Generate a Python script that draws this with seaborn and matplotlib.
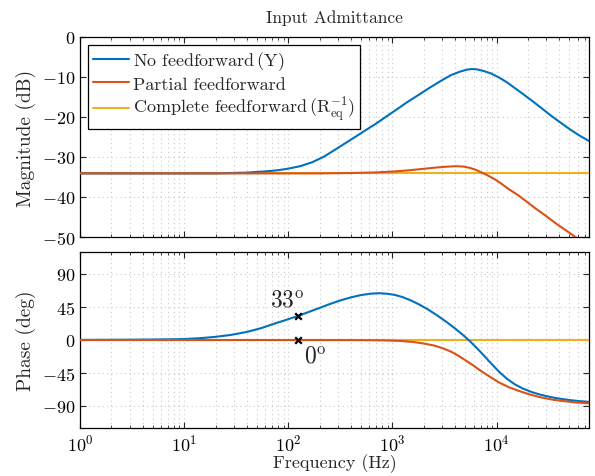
import matplotlib
matplotlib.use("Agg")
import matplotlib.pyplot as plt
import matplotlib.ticker as mticker
import numpy as np
import pandas as pd
import seaborn as sns

# ---- data (frequency in Hz) ----
freq_mag_nff = [1, 20, 40, 60, 80, 100, 130, 170, 220, 280, 350, 450, 560, 700,
                870, 1100, 1400, 1800, 2300, 2900, 3600, 4400, 5200, 5800, 6500,
                7500, 8800, 10500, 12500, 15000, 18000, 22000, 27000, 33000,
                40000, 50000, 62000, 77000]
mag_nff = [-34.1, -34.1, -33.9, -33.6, -33.3, -32.9, -32.3, -31.3, -29.9, -28.2,
           -26.6, -24.8, -23.2, -21.6, -19.9, -18.1, -16.2, -14.4, -12.6, -11.0,
           -9.6, -8.7, -8.15, -8.0, -8.1, -8.5, -9.1, -10.1, -11.3, -12.8, -14.3,
           -16.0, -17.8, -19.6, -21.2, -23.0, -24.6, -26.0]

freq_mag_pff = [1, 200, 400, 700, 1000, 1400, 2000, 2700, 3400, 4100, 4800, 5500,
                6300, 7200, 8200, 9500, 11000, 13000, 16000, 19500, 24000, 30000,
                37000, 46000, 57000, 70000, 77000]
mag_pff = [-34.1, -34.1, -34.0, -33.85, -33.65, -33.35, -32.95, -32.6, -32.4,
           -32.3, -32.4, -32.7, -33.2, -33.9, -34.6, -35.5, -36.6, -38.0, -39.5,
           -41.2, -43.0, -44.8, -46.6, -48.3, -50.0, -51.7, -52.5]

freq_flat = [1, 77000]
mag_cff = [-34.1, -34.1]
phase_cff = [0, 0]

freq_ph_nff = [1, 2, 3, 5, 7, 10, 14, 20, 28, 40, 55, 70, 90, 110, 125, 150, 200,
               250, 320, 400, 500, 620, 750, 900, 1050, 1250, 1500, 1800, 2200,
               2700, 3300, 4000, 4800, 5500, 6400, 7500, 8800, 10500, 12500,
               15000, 18000, 22000, 27000, 33000, 40000, 50000, 62000, 77000]
phase_nff = [0.1, 0.3, 0.4, 0.7, 0.9, 1.3, 2.4, 4.3, 6.9, 11.0, 16.2, 21.3, 26.3,
             30.4, 33.0, 37.2, 43.8, 49.0, 54.2, 58.2, 61.3, 63.2, 63.8, 63.0,
             61.5, 58.5, 54.0, 48.5, 41.5, 33.3, 24.6, 15.6, 6.3, -1.3, -10.5,
             -20.8, -31.6, -43.0, -52.7, -60.6, -66.5, -71.3, -75.0, -77.8,
             -80.0, -81.9, -83.3, -84.4]

freq_ph_pff = [1, 400, 800, 1200, 1600, 2000, 2500, 3000, 3600, 4300, 5000, 6000,
               7200, 8600, 10500, 13000, 16600, 21000, 27000, 35000, 45000,
               58000, 77000]
phase_pff = [0, -0.1, -0.5, -1.3, -2.8, -4.8, -7.5, -11.0, -15.5, -21.5, -27.5,
             -35.0, -43.0, -50.0, -57.8, -64.2, -69.8, -74.5, -78.5, -81.5,
             -83.5, -85.2, -86.4]

marker_freq = [125, 125]
marker_phase = [33, 0]
marker_labels = [r"$33^{\mathrm{o}}$", r"$0^{\mathrm{o}}$"]

labels = [r"No feedforward$\,(\mathrm{Y})$",
          "Partial feedforward",
          r"Complete feedforward$\,(\mathrm{R}_{\mathrm{eq}}^{-1})$"]
colors = ["#0072BD", "#D95319", "#EDB120"]

sns.set_style("ticks")
plt.rcParams.update({
    "font.family": "serif",
    "font.serif": ["cmr10", "DejaVu Serif"],
    "mathtext.fontset": "cm",
    "axes.formatter.use_mathtext": True,
    "axes.unicode_minus": False,
    "font.size": 11,
    "axes.edgecolor": "black",
    "axes.linewidth": 0.9,
    "xtick.direction": "in",
    "ytick.direction": "in",
    "xtick.top": True,
    "ytick.right": True,
    "xtick.color": "#262626",
    "ytick.color": "#262626",
    "xtick.labelcolor": "black",
    "ytick.labelcolor": "black",
})

fig = plt.figure(figsize=(5.95, 4.77), dpi=100)
ax1 = fig.add_axes([80 / 595, 1 - 238 / 477, 509 / 595, 200 / 477])
ax2 = fig.add_axes([80 / 595, 1 - 429 / 477, 509 / 595, 176 / 477])

lw = 1.5


def draw(ax, x, y, color, z):
    df = pd.DataFrame({"f": x, "v": y})
    sns.lineplot(data=df, x="f", y="v", ax=ax, color=color, lw=lw,
                 zorder=z, legend=False, estimator=None, sort=False)


# magnitude
draw(ax1, freq_flat, mag_cff, colors[2], 3)
draw(ax1, freq_mag_nff, mag_nff, colors[0], 4)
draw(ax1, freq_mag_pff, mag_pff, colors[1], 5)

# phase
draw(ax2, freq_flat, phase_cff, colors[2], 3)
draw(ax2, freq_ph_nff, phase_nff, colors[0], 4)
draw(ax2, freq_ph_pff, phase_pff, colors[1], 5)

ax2.scatter(marker_freq, marker_phase, marker="x", color="black", s=22,
            linewidths=1.6, zorder=6)
ax2.text(96.8, 54.6, marker_labels[0], fontsize=17, ha="center", va="center")
ax2.text(183, -23, marker_labels[1], fontsize=17, ha="center", va="center")

xmin, xmax = 1, 7.7e4
for ax in (ax1, ax2):
    ax.set_xscale("log")
    ax.set_xlim(xmin, xmax)
    ax.xaxis.set_major_locator(mticker.LogLocator(base=10, numticks=10))
    ax.xaxis.set_minor_locator(mticker.LogLocator(base=10, subs=np.arange(2, 10), numticks=50))
    ax.grid(True, which="major", color="#c8c8c8", ls=(0, (1, 3)), lw=0.8)
    ax.grid(True, which="minor", axis="x", color="#c8c8c8", ls=(0, (1, 3)), lw=0.8)
    ax.tick_params(which="major", length=4, width=0.8, labelsize=13)
    ax.tick_params(which="minor", length=2, width=0.6)
    ax.set_axisbelow(True)
    for sp in ax.spines.values():
        sp.set_visible(True)

ax1.set_ylim(-50, 0)
ax1.set_yticks([0, -10, -20, -30, -40, -50])
ax1.tick_params(axis="x", labelbottom=False)
ax1.set_xlabel("")
ax1.set_ylabel("Magnitude (dB)", fontsize=14, labelpad=4)
ax1.set_title("Input Admittance", fontsize=12.5, pad=11)

ax2.set_ylim(-120, 120)
ax2.set_yticks([-90, -45, 0, 45, 90])
ax2.set_xlabel("Frequency (Hz)", fontsize=13, labelpad=0)
ax2.set_ylabel("Phase (deg)", fontsize=14, labelpad=4)

handles = [plt.Line2D([], [], color=c, lw=lw) for c in colors]
leg = ax1.legend(handles, labels, loc="upper left", fontsize=13,
                 frameon=True, fancybox=False, edgecolor="black",
                 framealpha=1, borderpad=0.25, labelspacing=0.2,
                 handlelength=2.0, handletextpad=0.25,
                 borderaxespad=0.45)
leg.get_frame().set_linewidth(0.9)

fig.savefig("out.png", dpi=100)
